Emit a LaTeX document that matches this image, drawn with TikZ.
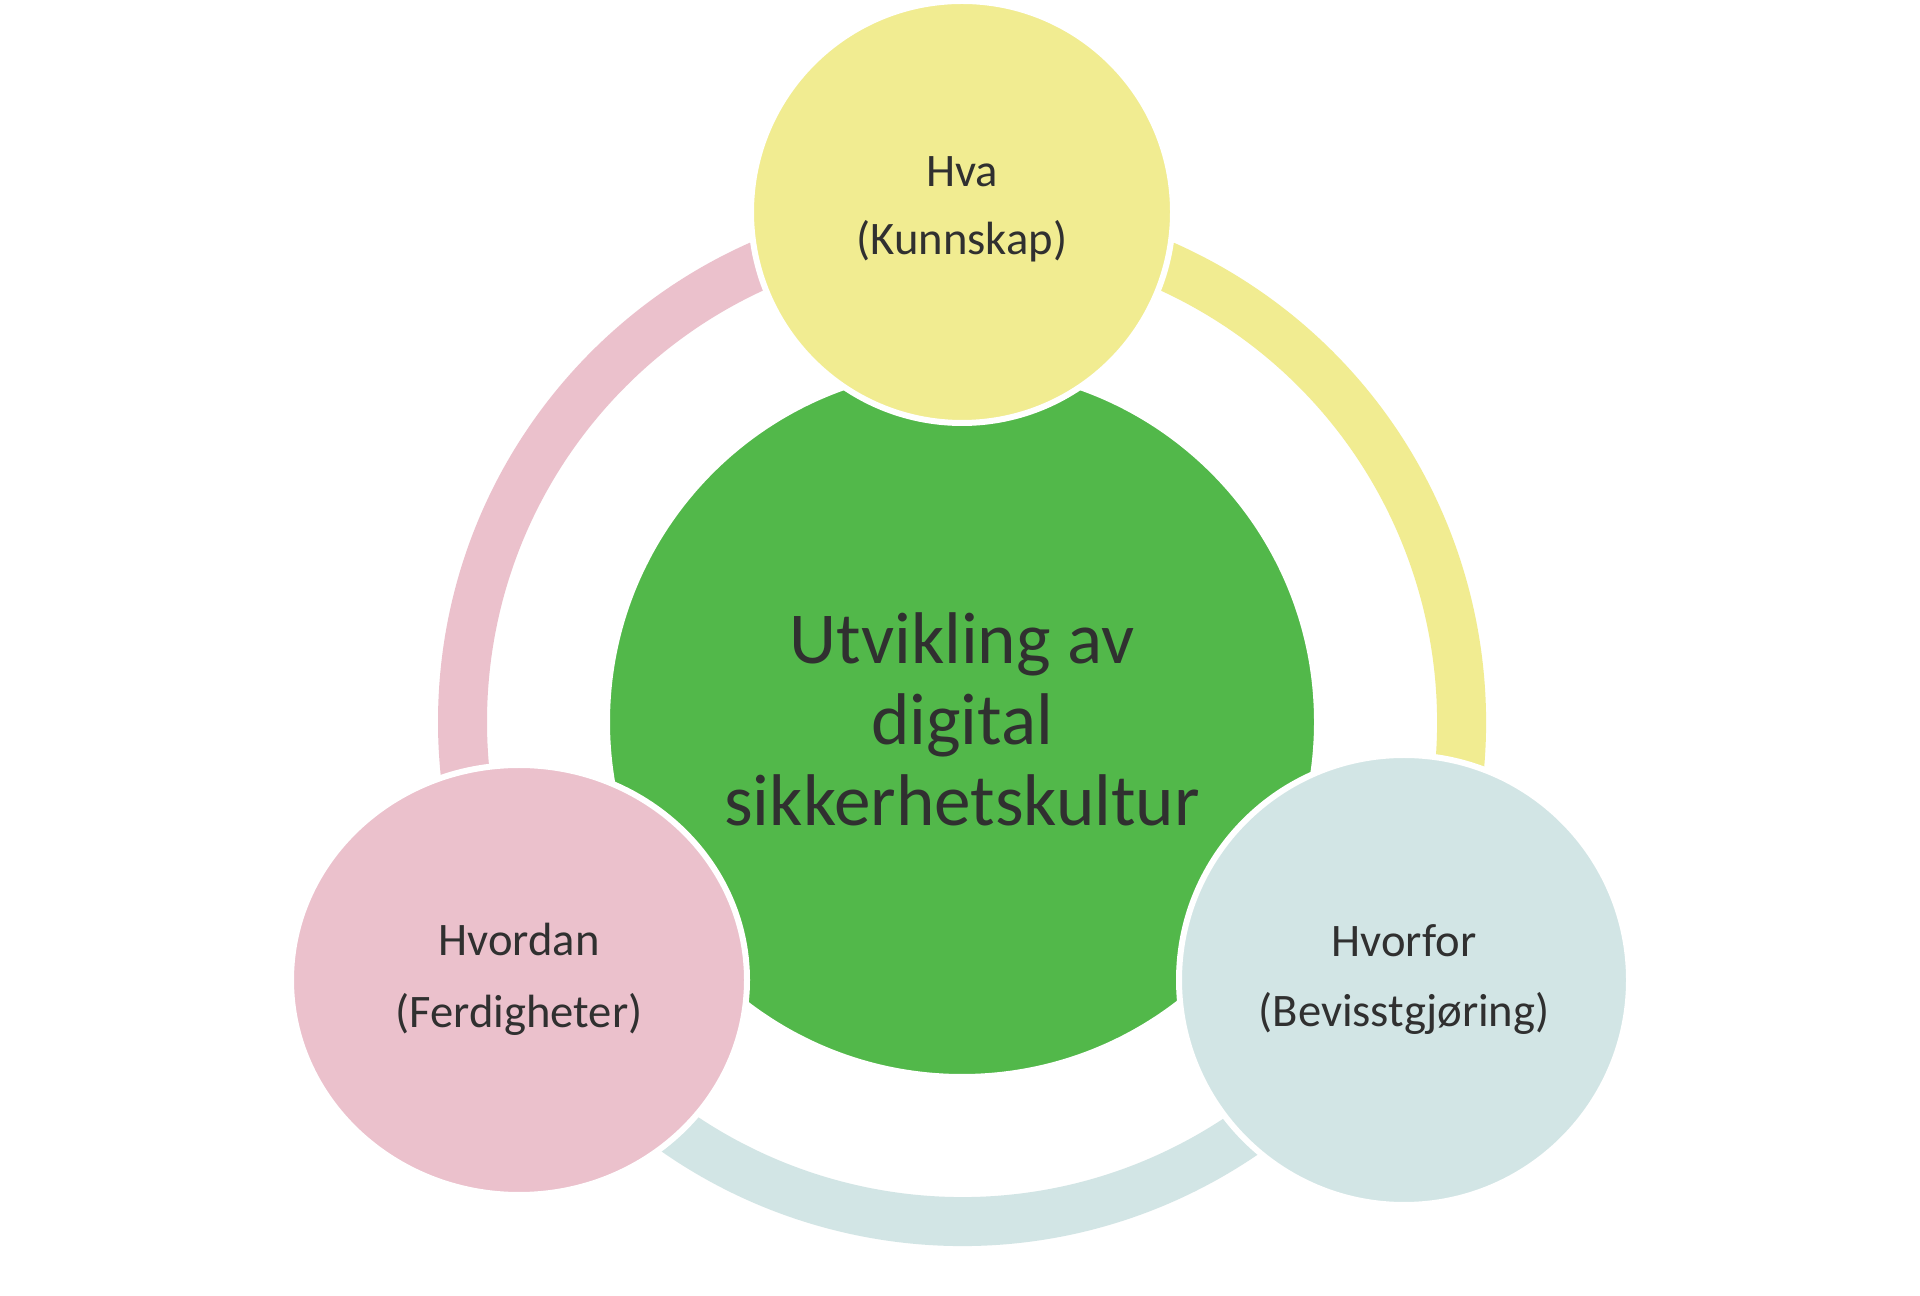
\documentclass[tikz,border=0pt]{standalone}
\usepackage{fontspec}
\setmainfont{Carlito}
\usetikzlibrary{shapes.geometric}
\definecolor{cyellow}{HTML}{F1EC91}
\definecolor{cpink}{HTML}{EBC1CC}
\definecolor{cteal}{HTML}{D2E5E5}
\definecolor{cgreen}{HTML}{52B84A}
\definecolor{ctext}{HTML}{303030}
\tikzset{
  ringarc/.style={line width=24.5pt, line cap=butt},
  bubble/.style={circle, draw=white, line width=3pt, inner sep=0pt},
  smalltext/.style={text=ctext, font=\fontsize{23.3pt}{28pt}\selectfont, inner sep=0pt, anchor=base},
  bigtext/.style={text=ctext, font=\fontsize{36.6pt}{44pt}\selectfont, inner sep=0pt, anchor=base}
}
\begin{document}
\begin{tikzpicture}[x=0.5pt,y=0.5pt]
\useasboundingbox[fill=white] (0,0) rectangle (1920,1295);
\coordinate (rc) at (962,573);
% ring arcs
\draw[ringarc, cpink] (rc) ++(90:249.75pt) arc[start angle=90, end angle=210, radius=249.75pt];
\draw[ringarc, cyellow] (rc) ++(-30:249.75pt) arc[start angle=-30, end angle=90, radius=249.75pt];
\draw[ringarc, cteal] (rc) ++(210:249.75pt) arc[start angle=210, end angle=330, radius=249.75pt];
% central circle
\node[bubble, fill=cgreen, minimum size=355pt] (center) at (962,573) {};
% outer circles
\node[bubble, fill=cyellow, minimum size=211pt] (hva) at (962,1083) {};
\node[ellipse, draw=white, line width=3pt, inner sep=0pt, fill=cpink, minimum width=228pt, minimum height=215pt] (hvordan) at (519,315) {};
\node[bubble, fill=cteal, minimum size=225pt] (hvorfor) at (1404,315) {};
% texts
\node[bigtext] (c1) at (962,631) {Utvikling av};
\node[bigtext] (c2) at (962,550) {digital};
\node[bigtext] (c3) at (962,469) {sikkerhetskultur};
\node[smalltext] (hva1) at (962,1108) {Hva};
\node[smalltext] (hva2) at (962,1040) {(Kunnskap)};
\node[smalltext] (hvd1) at (519,339) {Hvordan};
\node[smalltext] (hvd2) at (519,267) {(Ferdigheter)};
\node[smalltext] (hvf1) at (1404,338) {Hvorfor};
\node[smalltext] (hvf2) at (1404,268) {(Bevisstgjøring)};
\end{tikzpicture}
\end{document}
